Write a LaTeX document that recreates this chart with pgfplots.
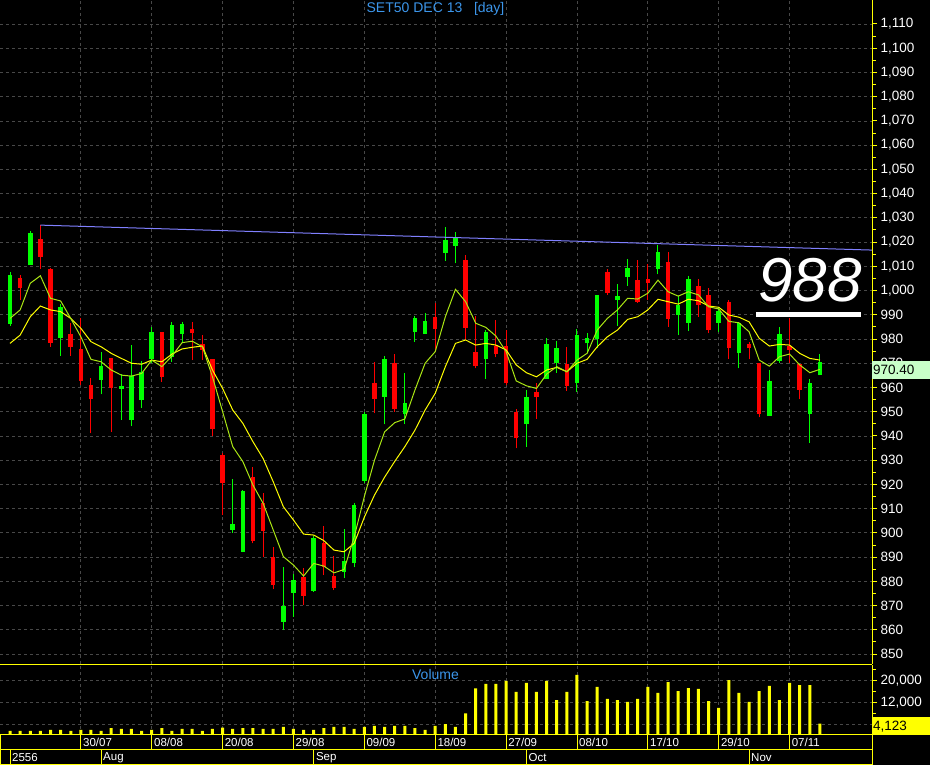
\documentclass[border=0pt]{standalone}
\usepackage{pgfplots}
\pgfplotsset{compat=1.18}
\usepackage{pgfplotstable}
\usepackage{fontspec}
\setmainfont{Liberation Sans}

\definecolor{up}{RGB}{0,255,0}
\definecolor{dn}{RGB}{255,0,0}
\definecolor{ax}{RGB}{255,255,0}
\definecolor{gridc}{RGB}{72,72,72}
\definecolor{trend}{RGB}{128,128,255}
\definecolor{maf}{RGB}{170,230,20}
\definecolor{mas}{RGB}{255,255,0}
\definecolor{ttl}{RGB}{60,150,235}
\definecolor{lastbox}{RGB}{200,255,200}

% rising candles
\pgfplotstableread{
i o h l c
0 986.2 1007.5 985.5 1006.4
2 1010.5 1024.6 1010.5 1023.9
5 980.5 994.4 973.1 993.3
9 963.1 974.5 957.2 969.0
11 959.4 965.6 946.6 960.7
12 946.6 977.5 944.1 964.7
13 954.8 971.0 951.6 966.5
14 971.6 984.8 970.0 983.0
16 972.7 987.0 970.6 985.8
17 982.1 987.0 978.2 986.1
22 901.2 922.2 900.1 903.6
23 892.2 917.9 892.0 917.1
27 863.3 885.8 859.9 869.8
28 875.3 883.0 865.4 880.5
30 876.1 898.7 875.7 898.0
33 884.0 901.5 881.2 888.4
34 887.4 912.2 885.8 911.5
35 921.4 950.0 920.4 949.0
37 956.2 973.1 944.8 971.7
39 949.0 965.8 944.9 953.7
40 983.0 989.5 978.9 988.8
41 982.1 990.6 982.1 987.4
43 1015.4 1026.1 1012.3 1020.9
44 1018.5 1024.0 1011.2 1021.8
47 971.7 983.7 963.5 982.8
51 944.9 959.0 935.6 955.9
53 963.6 980.5 963.6 977.8
54 970.2 979.2 966.1 976.4
56 962.0 984.1 958.3 981.6
57 978.2 982.6 974.1 980.5
58 980.0 998.2 976.2 998.2
60 996.1 1002.7 985.4 997.7
61 1005.7 1013.0 1001.9 1009.4
64 1008.9 1018.8 1006.7 1015.8
66 989.9 997.7 981.6 994.0
67 986.7 1006.0 983.3 1004.8
70 986.7 993.1 983.0 991.6
72 974.3 987.1 967.9 986.5
75 948.3 967.2 948.3 962.7
76 971.0 984.8 970.2 982.1
79 949.0 963.4 937.2 962.0
80 965.1 973.8 965.0 970.4
}\upT

% falling candles
\pgfplotstableread{
i o h l c
1 1005.3 1006.4 996.1 1001.2
3 1021.3 1027.0 1008.9 1014.0
4 1008.9 1009.4 976.8 978.5
6 982.1 986.5 973.1 976.8
7 975.9 988.8 961.0 962.7
8 961.0 964.0 941.1 955.1
10 972.3 972.3 941.7 959.9
15 982.8 982.8 962.4 964.4
18 984.1 987.1 971.3 982.6
19 977.9 981.6 971.3 975.5
20 971.6 971.6 940.0 942.7
21 932.0 933.1 907.4 920.7
24 923.2 927.3 895.7 896.6
25 912.2 916.3 889.9 900.8
26 889.9 894.0 876.7 878.5
29 881.9 885.4 870.2 874.1
31 895.9 902.8 882.6 886.0
32 882.3 890.4 876.4 877.4
36 961.7 970.4 949.3 955.2
38 970.0 973.7 950.0 951.1
42 989.0 994.7 974.5 984.1
45 1012.6 1014.7 979.6 984.7
46 974.5 989.6 967.9 969.0
48 977.2 987.8 972.4 973.8
49 977.1 983.7 961.0 961.7
50 949.7 951.1 934.9 939.0
52 958.0 961.7 947.0 956.2
55 969.7 976.8 958.7 960.7
59 1007.8 1008.8 998.2 999.1
62 1004.3 1012.6 995.0 995.4
63 1004.8 1010.9 996.1 1003.2
65 1011.7 1015.8 985.1 988.2
68 1001.9 1004.8 989.2 994.0
69 998.2 1000.9 982.3 983.7
71 995.4 996.1 971.7 976.4
73 977.9 978.9 971.6 976.4
74 970.2 970.2 947.7 949.0
77 977.1 988.5 970.2 975.5
78 969.6 969.6 955.2 959.0
}\dnT

% moving averages
\pgfplotstableread{
i f s
0 988.5 978.2
1 992.0 981.6
2 1003.0 989.2
3 1006.1 993.6
4 996.8 992.0
5 995.7 991.3
6 988.5 988.5
7 980.9 984.4
8 971.6 978.9
9 970.6 976.8
10 967.2 974.1
11 965.1 972.0
12 964.7 970.0
13 965.8 969.6
14 971.3 971.3
15 968.6 970.6
16 973.0 973.8
17 978.5 975.9
18 979.1 976.6
19 976.8 977.1
20 964.4 967.2
21 950.0 959.6
22 935.6 950.7
23 929.4 945.2
24 919.7 937.6
25 912.2 930.7
26 901.2 921.1
27 890.2 910.8
28 886.7 905.3
29 882.2 899.5
30 887.4 899.1
31 886.3 896.8
32 883.5 892.9
33 884.9 892.2
34 898.4 895.7
35 915.0 906.5
36 930.0 915.6
37 941.7 923.0
38 945.5 929.5
39 947.0 935.6
40 959.0 942.4
41 970.0 950.7
42 974.8 957.6
43 989.2 968.6
44 1000.5 978.2
45 995.4 979.6
46 986.5 977.5
47 984.8 978.2
48 981.2 977.5
49 974.8 975.5
50 962.7 969.3
51 960.7 966.1
52 959.6 964.4
53 965.5 967.2
54 968.6 968.3
55 966.5 966.5
56 971.3 970.0
57 974.1 971.6
58 983.7 976.8
59 988.5 980.9
60 992.0 983.7
61 996.8 988.1
62 996.5 989.2
63 998.9 992.0
64 1004.3 996.4
65 999.5 995.4
66 997.7 994.4
67 999.5 996.4
68 998.2 995.8
69 993.3 993.6
70 992.4 993.1
71 987.3 989.9
72 986.7 989.0
73 983.0 987.1
74 971.3 980.3
75 968.8 977.1
76 972.7 977.8
77 973.8 977.5
78 969.3 974.1
79 966.1 972.0
80 967.5 971.3
}\maT

\pgfplotstableread{
i v
0 1470
1 1470
2 1470
3 1470
4 1830
5 1830
6 1470
7 1830
8 1830
9 1470
10 2560
11 2200
12 2200
13 1470
14 1830
15 2560
16 1470
17 2200
18 2200
19 1470
20 2200
21 2700
22 2200
23 2560
24 2560
25 2200
26 2200
27 2930
28 2200
29 1830
30 1830
31 2560
32 2930
33 2930
34 2200
35 2930
36 3300
37 2930
38 3300
39 3300
40 2560
41 1830
42 3300
43 4000
44 2930
45 7900
46 17100
47 18700
48 18700
49 19800
50 15750
51 19050
52 15750
53 19800
54 12800
55 15750
56 22000
57 12450
58 17600
59 13200
60 12800
61 12100
62 13200
63 17600
64 15400
65 19400
66 16100
67 17200
68 16850
69 12450
70 9900
71 20100
72 15400
73 12100
74 16100
75 17950
76 12800
77 19050
78 18300
79 18300
80 4123
}\volT

\pgfplotsset{
  panel/.style={
    scale only axis, width=872pt,
    xmin=-0.988, xmax=85.14,
    xtick={7,14,...,77}, xticklabels={},
    xmajorgrids, ymajorgrids,
    grid style={gridc, dash pattern=on 3pt off 3pt, line width=0.8pt},
    axis x line*=bottom, axis y line*=right,
    x axis line style={draw=none},
    y axis line style={draw=ax, line width=1pt, -},
    tick align=outside,
    every tick/.style={draw=ax, line width=1pt},
    xtick style={draw=none},
    major tick length=5pt, minor tick length=4pt,
    yticklabel style={font=\fontsize{13.5}{14}\selectfont, text=white, anchor=west},
    /pgf/number format/assume math mode=true,
    /pgf/number format/1000 sep={,},
    scaled y ticks=false,
    clip=true,
  },
  body/.style={draw=none, mark=none, forget plot,
    error bars/y dir=plus, error bars/y explicit,
    error bars/error mark=none,
    error bars/error bar style={draw=#1, line width=4.5pt}},
  wick/.style={draw=none, mark=none, forget plot,
    error bars/y dir=plus, error bars/y explicit,
    error bars/error mark=none,
    error bars/error bar style={draw=#1, line width=1pt}},
}

\begin{document}
\begin{tikzpicture}
\fill[black] (0,0) rectangle (930pt,765pt);
\useasboundingbox (0,0) rectangle (930pt,765pt);

% price panel
\begin{axis}[panel, at={(0pt,101pt)}, anchor=south west, height=664pt,
  ymin=845.9, ymax=1119.9, ytick={850,860,...,1110}, minor y tick num=1]
\addplot[wick=up] table[x=i, y=l, y error expr=\thisrow{h}-\thisrow{l}] {\upT};
\addplot[wick=dn] table[x=i, y=l, y error expr=\thisrow{h}-\thisrow{l}] {\dnT};
\addplot[body=up] table[x=i, y=o, y error expr=\thisrow{c}-\thisrow{o}] {\upT};
\addplot[body=dn] table[x=i, y=c, y error expr=\thisrow{o}-\thisrow{c}] {\dnT};
\addplot[mas, line width=1pt, mark=none] table[x=i, y=s] {\maT};
\addplot[maf, line width=1pt, mark=none] table[x=i, y=f] {\maT};
\addplot[trend, line width=1pt, mark=none] coordinates {(3,1027) (85.14,1016.7)};
\end{axis}

% volume panel
\begin{axis}[panel, at={(0pt,30pt)}, anchor=south west, height=70pt,
  ymin=0, ymax=25640, ytick={4000,12000,20000}, yticklabels={,{12,000},{20,000}},
  minor ytick={8000,16000,24000},
  axis x line*=top, x axis line style={draw=ax, line width=1pt, -}]
\addplot[ybar, bar width=3pt, fill=ax, draw=none] table[x=i, y=v] {\volT};
\end{axis}

% titles
\node[text=ttl, font=\fontsize{14}{16}\selectfont] at (435.5pt,756pt) {SET50 DEC 13\ \ \ [day]};
\node[text=ttl, font=\fontsize{14}{16}\selectfont] at (435.5pt,90pt) {Volume};

% annotation
\node[text=white, font=\fontsize{62}{62}\selectfont\itshape, anchor=base, inner sep=0pt] at (810pt,463.3pt) {988};
\fill[white] (756pt,448.3pt) rectangle (860.7pt,453.3pt);

% last value boxes
\fill[lastbox] (872pt,386pt) rectangle (930pt,404pt);
\node[anchor=west, inner sep=0pt, text=black, font=\fontsize{13.5}{14}\selectfont] at (873pt,395pt) {970.40};
\fill[ax] (872pt,30pt) rectangle (930pt,47.5pt);
\node[anchor=west, inner sep=0pt, text=black, font=\fontsize{13.5}{14}\selectfont] at (873pt,38.5pt) {4,123};

% date strip
\draw[ax, line width=1pt] (0.5pt,15pt) rectangle (872pt,30pt);
\draw[ax, line width=1pt] (0.5pt,0.5pt) rectangle (872pt,15pt);
\foreach \x in {80.9,151.75,222.6,293.5,364.4,435.25,506.1,577,647.9,718.75,789.6}
  \draw[ax, line width=1pt] (\x pt,15pt) -- (\x pt,30pt);
\foreach \x in {10,101.1,313.75,526.4,749.1}
  \draw[ax, line width=1pt] (\x pt,0.5pt) -- (\x pt,15pt);
\begin{scope}[every node/.style={anchor=west, inner sep=0pt, text=white, font=\fontsize{11.5}{12}\selectfont}]
\node at (83pt,22.5pt) {30/07};
\node at (154pt,22.5pt) {08/08};
\node at (224.6pt,22.5pt) {20/08};
\node at (295.5pt,22.5pt) {29/08};
\node at (366.4pt,22.5pt) {09/09};
\node at (437.3pt,22.5pt) {18/09};
\node at (508.1pt,22.5pt) {27/09};
\node at (579pt,22.5pt) {08/10};
\node at (650pt,22.5pt) {17/10};
\node at (720.8pt,22.5pt) {29/10};
\node at (791.6pt,22.5pt) {07/11};
\node at (12pt,7.5pt) {2556};
\node at (103pt,7.5pt) {Aug};
\node at (315.8pt,7.5pt) {Sep};
\node at (528.4pt,7.5pt) {Oct};
\node at (751pt,7.5pt) {Nov};
\end{scope}
\end{tikzpicture}
\end{document}
